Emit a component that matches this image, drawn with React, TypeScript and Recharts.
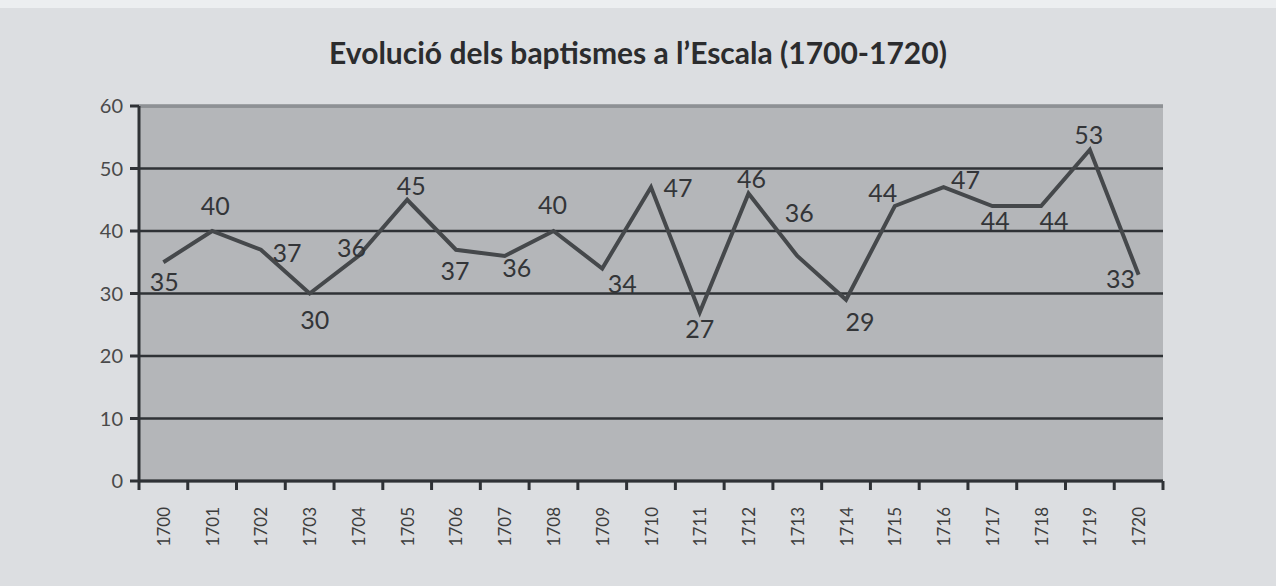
import React from 'react';
import { LineChart, Line, XAxis, YAxis, CartesianGrid, ReferenceLine, LabelList } from 'recharts';

const years = ['1700', '1701', '1702', '1703', '1704', '1705', '1706', '1707', '1708', '1709', '1710', '1711', '1712', '1713', '1714', '1715', '1716', '1717', '1718', '1719', '1720'];
const baptisms = [35, 40, 37, 30, 36, 45, 37, 36, 40, 34, 47, 27, 46, 36, 29, 44, 47, 44, 44, 53, 33];
const yTicks = [0, 10, 20, 30, 40, 50, 60];
const title = 'Evolució dels baptismes a l’Escala (1700-1720)';

// label offsets relative to each point (styling)
const labelOffsets: [number, number][] = [
  [1, 19], [3, -26], [26, 2], [5, 25], [-7, -9], [4, -15], [-1, 20], [12, 11],
  [-1, -27], [20, 14], [27, 0], [0, 16], [3, -16], [2, -44], [14, 21], [-12, -14],
  [22, -8], [3, 14], [13, 14], [-1, -16], [-18, 3],
];

const data = years.map((year, i) => ({ year, value: baptisms[i] }));

const FONT = 'Lato, "Open Sans", sans-serif';
const DARK = '#2f3236';

const XTick = (props: any) => {
  const { x, y, payload, index, visibleTicksCount, width } = props;
  const half = payload && typeof payload.offset === 'number' && payload.offset > 0
    ? payload.offset
    : (width || 0) / (visibleTicksCount || 1) / 2;
  return (
    <g>
      <line x1={x - half} x2={x - half} y1={y} y2={y + 9} stroke={DARK} strokeWidth={3} />
      {index === visibleTicksCount - 1 && (
        <line x1={x + half} x2={x + half} y1={y} y2={y + 9} stroke={DARK} strokeWidth={3} />
      )}
      <text
        transform={`translate(${x},${y + 26}) rotate(-90)`}
        textAnchor="end"
        dominantBaseline="central"
        fontSize={17}
        fontFamily={FONT}
        fill="#3d3d3d"
      >
        {payload.value}
      </text>
    </g>
  );
};

const PointLabel = (props: any) => {
  const { x, y, value, index } = props;
  const off = labelOffsets[index] || [0, -15];
  return (
    <text
      x={x + off[0]}
      y={y + off[1]}
      textAnchor="middle"
      dominantBaseline="central"
      fontSize={25}
      fontFamily={FONT}
      fill="#333538"
    >
      {value}
    </text>
  );
};

export default function App() {
  return (
    <div style={{ position: 'absolute', left: 0, top: 0, width: 1276, height: 586, background: '#dcdee1', overflow: 'hidden' }}>
      <div style={{ position: 'absolute', left: 0, top: 0, width: 1276, height: 8, background: '#eceef0' }} />
      <div
        style={{
          position: 'absolute', left: 0, top: 33, width: 1276, textAlign: 'center',
          fontFamily: FONT, fontWeight: 700, fontSize: 30, color: '#2b2c2e', lineHeight: '38px',
        }}
      >
        {title}
      </div>
      <div style={{ position: 'absolute', left: 0, top: 0 }}>
        <LineChart width={1276} height={586} data={data} margin={{ top: 106, right: 113, bottom: 0, left: 0 }}>
          <CartesianGrid
            yAxisId="left"
            vertical={false}
            fill="#b4b6b9"
            fillOpacity={1}
            stroke={DARK}
            strokeWidth={2.5}
          />
          <XAxis
            dataKey="year"
            scale="band"
            height={105}
            interval={0}
            tickLine={false}
            tickSize={0}
            tickMargin={0}
            axisLine={{ stroke: DARK, strokeWidth: 3 }}
            tick={<XTick />}
          />
          <YAxis
            yAxisId="left"
            domain={[0, 60]}
            ticks={yTicks}
            width={139}
            tickSize={9}
            tickMargin={7}
            axisLine={{ stroke: DARK, strokeWidth: 3 }}
            tickLine={{ stroke: DARK, strokeWidth: 3 }}
            tick={{ fill: '#4a4a4a', fontSize: 20, fontFamily: FONT }}
          />
          <YAxis
            yAxisId="right"
            orientation="right"
            domain={[0, 60]}
            width={0}
            tick={false}
            tickLine={false}
            axisLine={{ stroke: '#8e9195', strokeWidth: 2 }}
          />
          <ReferenceLine yAxisId="left" y={60} stroke="#8e9195" strokeWidth={3} />
          <Line
            yAxisId="left"
            type="linear"
            dataKey="value"
            stroke="#45484b"
            strokeWidth={4}
            dot={false}
            activeDot={false}
            isAnimationActive={false}
          >
            <LabelList dataKey="value" content={<PointLabel />} />
          </Line>
        </LineChart>
      </div>
    </div>
  );
}
